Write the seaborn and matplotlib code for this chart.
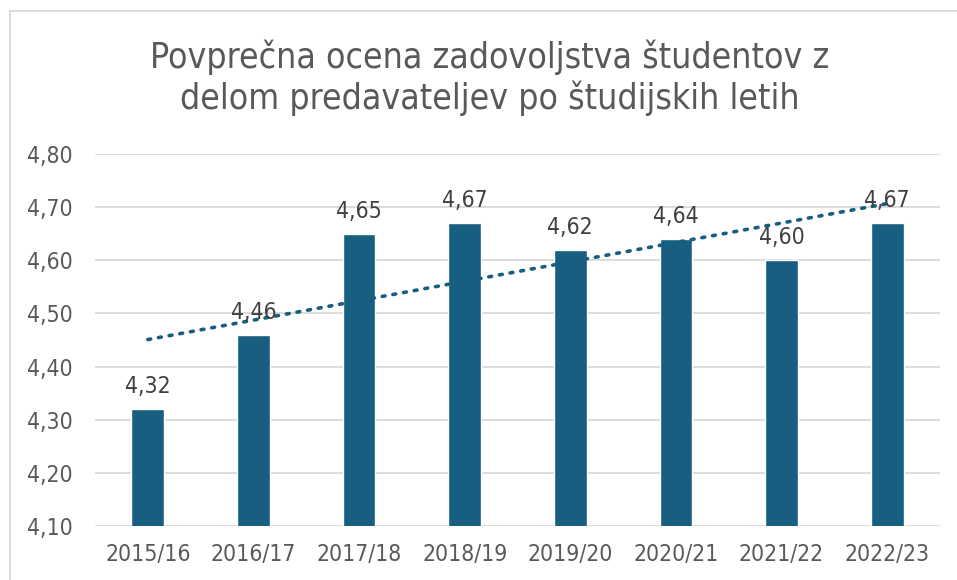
import numpy as np
import pandas as pd
import matplotlib
matplotlib.use("Agg")
import matplotlib.pyplot as plt
import seaborn as sns
from matplotlib.patches import Rectangle

# podatki
leta = ["2015/16", "2016/17", "2017/18", "2018/19", "2019/20", "2020/21", "2021/22", "2022/23"]
ocene = [4.32, 4.46, 4.65, 4.67, 4.62, 4.64, 4.60, 4.67]
y_ticks = [4.10, 4.20, 4.30, 4.40, 4.50, 4.60, 4.70, 4.80]
naslov = "Povprečna ocena zadovoljstva študentov z\ndelom predavateljev po študijskih letih"

BAR = "#175e80"
TXT = "#595959"
GRID = "#d9d9d9"

sns.set_theme(style="white")
plt.rcParams["font.family"] = ["DejaVu Sans"]
plt.rcParams["font.stretch"] = "condensed"

df = pd.DataFrame({"leto": leta, "ocena": ocene})

fig = plt.figure(figsize=(9.57, 5.8), dpi=100)
ax = fig.add_axes([95 / 957, 1 - 526 / 580, 845 / 957, 372 / 580])

sns.barplot(data=df, x="leto", y="ocena", color=BAR, saturation=1, width=0.31, ax=ax, zorder=2)

# linearni trend
xs = np.arange(len(ocene))
k, n = np.polyfit(xs, ocene, 1)
ax.plot(xs, k * xs + n, linestyle=(0, (0.8, 2.2)), dash_capstyle="round",
        color=BAR, linewidth=2.6, zorder=3)

for i, v in enumerate(ocene):
    ax.annotate(f"{v:.2f}".replace(".", ","), (i, v), xytext=(0, 8), textcoords="offset points",
                ha="center", va="bottom", fontsize=16.5, color="#404040", zorder=4)

ax.set_ylim(4.10, 4.80)
ax.set_xlim(-0.5, len(leta) - 0.5)
ax.set_yticks(y_ticks)
ax.set_yticklabels([f"{t:.2f}".replace(".", ",") for t in y_ticks])
ax.yaxis.grid(True, color=GRID, linewidth=1.3, zorder=0)
ax.set_axisbelow(True)
ax.tick_params(axis="both", labelsize=16.5, labelcolor=TXT, length=0)
ax.tick_params(axis="y", pad=49)
ax.tick_params(axis="x", pad=12)
for lbl in ax.get_yticklabels():
    lbl.set_horizontalalignment("left")
ax.set_xlabel("")
ax.set_ylabel("")
sns.despine(ax=ax, left=True, bottom=True, top=True, right=True)

fig.text(490 / 957, 1 - 78 / 580, naslov, ha="center", va="center", fontsize=25.5,
         color=TXT, linespacing=1.2)

# okvir grafikona
fig.patches.append(Rectangle((9.5 / 957, -0.1), 2, 1.1 - 11 / 580, transform=fig.transFigure,
                             fill=False, edgecolor=GRID, linewidth=1.3))

fig.savefig("out.png", dpi=100)
